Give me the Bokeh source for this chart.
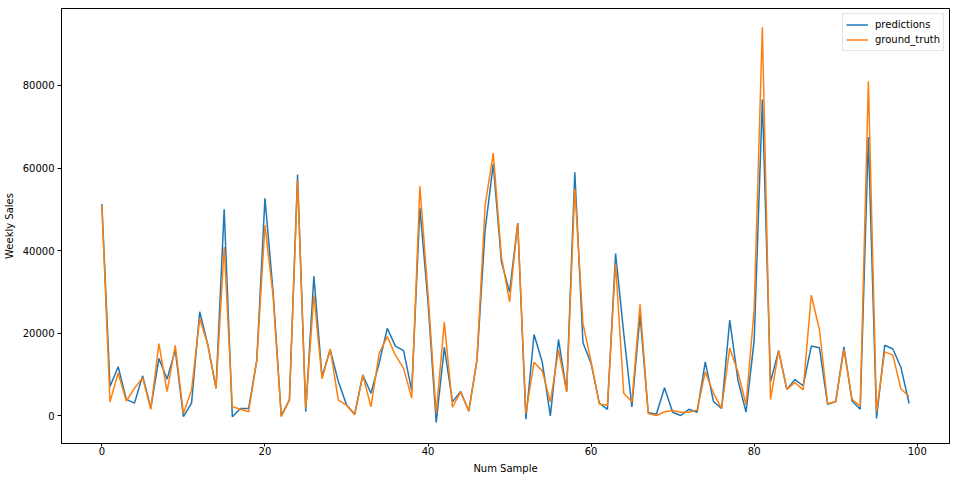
from bokeh.plotting import figure
from bokeh.models import Range1d, FixedTicker, Legend, LegendItem, BasicTickFormatter
from bokeh.embed import file_html
from bokeh.resources import INLINE

samples = list(range(100))
predictions = [51300, 7100, 11900, 4000, 3100, 9700, 1900, 13900, 8900, 16000,
               -200, 3100, 25200, 17200, 6700, 50000, -200, 1800, 1800, 13500,
               52700, 30000, 0, 3900, 58400, 1000, 33800, 9500, 16000, 8300,
               2700, 400, 9900, 5500, 12700, 21200, 16900, 15800, 6100, 50400,
               27500, -1600, 16600, 3400, 5900, 1200, 13500, 45000, 61000, 37300,
               30000, 46700, -800, 19700, 13100, 0, 18500, 5900, 59000, 17700,
               12700, 3100, 1600, 39300, 20000, 2200, 24400, 800, 400, 6800,
               900, 100, 1600, 900, 13100, 3500, 1800, 23200, 8700, 900,
               18400, 76600, 8300, 15800, 6400, 8800, 7300, 16900, 16500, 2800,
               3500, 16700, 3600, 1600, 67500, -600, 17100, 16200, 11700, 3000]
ground_truth = [51000, 3400, 10400, 3600, 6700, 9200, 1600, 17500, 5900, 17100,
                600, 6300, 23600, 17100, 6600, 40900, 2200, 1600, 1000, 13500,
                46200, 29000, -200, 3800, 57000, 1800, 29200, 9000, 16200, 3800,
                2600, 300, 9900, 2200, 15100, 19200, 14700, 11500, 4300, 55600,
                29500, 600, 22700, 2100, 5800, 1100, 13500, 51000, 63600, 38500,
                27600, 46700, 600, 13000, 10900, 3400, 15900, 5800, 55000, 22400,
                13100, 2900, 2600, 36900, 5500, 3400, 27000, 600, 100, 1000,
                1300, 900, 900, 1400, 10700, 5500, 1800, 16400, 10700, 2700,
                26000, 94100, 4000, 15800, 6400, 8100, 6300, 29200, 20900, 3000,
                3400, 16100, 4000, 2400, 81000, 1000, 15500, 14700, 6500, 4700]
x_ticks = [0, 20, 40, 60, 80, 100]
y_ticks = [0, 20000, 40000, 60000, 80000]

FONT = "DejaVu Sans"

p = figure(width=957, height=476, output_backend="svg", toolbar_location=None,
           x_range=Range1d(-4.95, 103.95), y_range=Range1d(-6680, 98620),
           min_border_left=54, min_border_right=8, min_border_top=8, min_border_bottom=32)
p.background_fill_color = "white"
p.border_fill_color = "white"
p.outline_line_color = "black"
p.outline_line_width = 1
p.xgrid.visible = False
p.ygrid.visible = False

for ax in (p.xaxis[0], p.yaxis[0]):
    ax.axis_line_color = "black"
    ax.major_tick_line_color = "black"
    ax.major_tick_out = 4
    ax.major_tick_in = 0
    ax.minor_tick_out = 0
    ax.minor_tick_in = 0
    ax.major_label_text_font = FONT
    ax.major_label_text_font_size = "10px"
    ax.major_label_text_color = "black"
    ax.axis_label_text_font = FONT
    ax.axis_label_text_font_size = "10px"
    ax.axis_label_text_font_style = "normal"
    ax.axis_label_text_color = "black"
    ax.major_label_standoff = 3

p.xaxis[0].major_tick_out = 3
p.xaxis[0].major_label_standoff = 0
p.xaxis[0].ticker = FixedTicker(ticks=x_ticks)
p.yaxis[0].ticker = FixedTicker(ticks=y_ticks)
p.yaxis[0].formatter = BasicTickFormatter(use_scientific=False)
p.xaxis[0].axis_label = "Num Sample"
p.yaxis[0].axis_label = "Weekly Sales"
p.xaxis[0].axis_label_standoff = 5
p.yaxis[0].axis_label_standoff = 5

r1 = p.line(samples, predictions, line_color="#1f77b4", line_width=1.5)
r2 = p.line(samples, ground_truth, line_color="#ff7f0e", line_width=1.5)

legend = Legend(items=[LegendItem(label="predictions", renderers=[r1]),
                       LegendItem(label="ground_truth", renderers=[r2])],
                location="top_right")
legend.label_text_font = FONT
legend.label_text_font_size = "10px"
legend.label_text_color = "black"
legend.glyph_width = 22
legend.glyph_height = 15
legend.label_height = 15
legend.label_standoff = 7
legend.padding = 3
legend.spacing = 0
legend.margin = 5
legend.border_line_color = "#cccccc"
legend.border_line_width = 1
legend.background_fill_alpha = 0.8
p.add_layout(legend, "center")

open("out.html", "w").write(file_html(p, INLINE))
